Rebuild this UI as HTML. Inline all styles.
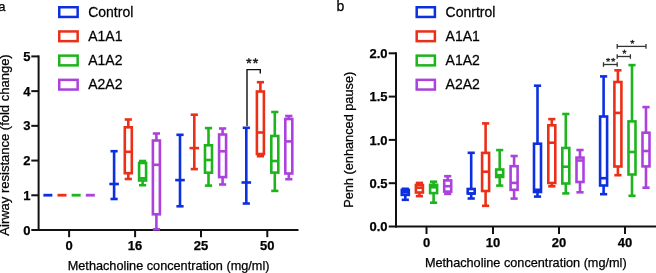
<!DOCTYPE html>
<html><head><meta charset="utf-8"><style>
html,body{margin:0;padding:0;background:#fff;}
body{width:656px;height:273px;overflow:hidden;}
svg{display:block;will-change:transform;font-family:"Liberation Sans",sans-serif;fill:#111;}
text{fill:#000;stroke:#000;stroke-width:0.25px;}
</style></head><body>
<svg width="656" height="273" viewBox="0 0 656 273">
<rect width="656" height="273" fill="#fff"/>
<line x1="38.60" y1="55.40" x2="38.60" y2="231.00" stroke="#111" stroke-width="2.0"/>
<line x1="37.60" y1="230.00" x2="298.50" y2="230.00" stroke="#111" stroke-width="2.0"/>
<line x1="31.30" y1="230.00" x2="38.60" y2="230.00" stroke="#111" stroke-width="2.0"/>
<text x="30.40" y="234.60" font-size="13" text-anchor="end" font-weight="bold" >0</text>
<line x1="31.30" y1="195.28" x2="38.60" y2="195.28" stroke="#111" stroke-width="2.0"/>
<text x="30.40" y="199.88" font-size="13" text-anchor="end" font-weight="bold" >1</text>
<line x1="31.30" y1="160.56" x2="38.60" y2="160.56" stroke="#111" stroke-width="2.0"/>
<text x="30.40" y="165.16" font-size="13" text-anchor="end" font-weight="bold" >2</text>
<line x1="31.30" y1="125.84" x2="38.60" y2="125.84" stroke="#111" stroke-width="2.0"/>
<text x="30.40" y="130.44" font-size="13" text-anchor="end" font-weight="bold" >3</text>
<line x1="31.30" y1="91.12" x2="38.60" y2="91.12" stroke="#111" stroke-width="2.0"/>
<text x="30.40" y="95.72" font-size="13" text-anchor="end" font-weight="bold" >4</text>
<line x1="31.30" y1="56.40" x2="38.60" y2="56.40" stroke="#111" stroke-width="2.0"/>
<text x="30.40" y="61.00" font-size="13" text-anchor="end" font-weight="bold" >5</text>
<line x1="69.10" y1="230.00" x2="69.10" y2="237.20" stroke="#111" stroke-width="2.0"/>
<text x="69.10" y="250.20" font-size="13" text-anchor="middle" font-weight="bold" >0</text>
<line x1="135.10" y1="230.00" x2="135.10" y2="237.20" stroke="#111" stroke-width="2.0"/>
<text x="135.10" y="250.20" font-size="13" text-anchor="middle" font-weight="bold" >16</text>
<line x1="201.00" y1="230.00" x2="201.00" y2="237.20" stroke="#111" stroke-width="2.0"/>
<text x="201.00" y="250.20" font-size="13" text-anchor="middle" font-weight="bold" >25</text>
<line x1="267.30" y1="230.00" x2="267.30" y2="237.20" stroke="#111" stroke-width="2.0"/>
<text x="267.30" y="250.20" font-size="13" text-anchor="middle" font-weight="bold" >50</text>
<text x="168.60" y="270.00" font-size="12.7" text-anchor="middle" font-weight="normal" >Methacholine concentration (mg/ml)</text>
<text x="0.00" y="0.00" font-size="13" text-anchor="middle" font-weight="normal" transform="translate(9.4,145.0) rotate(-90)">Airway resistance (fold change)</text>
<line x1="43.37" y1="195.20" x2="52.37" y2="195.20" stroke="#0c30e0" stroke-width="2.8"/>
<line x1="57.52" y1="195.20" x2="66.52" y2="195.20" stroke="#ea3018" stroke-width="2.8"/>
<line x1="71.67" y1="195.20" x2="80.67" y2="195.20" stroke="#1eb41e" stroke-width="2.8"/>
<line x1="85.82" y1="195.20" x2="94.82" y2="195.20" stroke="#ac42dc" stroke-width="2.8"/>
<line x1="114.10" y1="151.20" x2="114.10" y2="184.00" stroke="#0c30e0" stroke-width="2.6"/>
<line x1="114.10" y1="184.00" x2="114.10" y2="199.00" stroke="#0c30e0" stroke-width="2.6"/>
<line x1="110.50" y1="151.20" x2="117.70" y2="151.20" stroke="#0c30e0" stroke-width="2.6"/>
<line x1="110.50" y1="199.00" x2="117.70" y2="199.00" stroke="#0c30e0" stroke-width="2.6"/>
<line x1="109.30" y1="184.00" x2="118.90" y2="184.00" stroke="#0c30e0" stroke-width="2.6"/>
<line x1="128.30" y1="119.50" x2="128.30" y2="127.30" stroke="#ea3018" stroke-width="2.6"/>
<line x1="128.30" y1="173.20" x2="128.30" y2="179.00" stroke="#ea3018" stroke-width="2.6"/>
<line x1="124.70" y1="119.50" x2="131.90" y2="119.50" stroke="#ea3018" stroke-width="2.6"/>
<line x1="124.70" y1="179.00" x2="131.90" y2="179.00" stroke="#ea3018" stroke-width="2.6"/>
<rect x="124.80" y="127.30" width="7.00" height="45.90" fill="none" stroke="#ea3018" stroke-width="2.6"/>
<line x1="124.80" y1="151.80" x2="131.80" y2="151.80" stroke="#ea3018" stroke-width="2.6"/>
<line x1="142.60" y1="161.00" x2="142.60" y2="163.00" stroke="#1eb41e" stroke-width="2.6"/>
<line x1="142.60" y1="180.50" x2="142.60" y2="185.20" stroke="#1eb41e" stroke-width="2.6"/>
<line x1="139.00" y1="161.00" x2="146.20" y2="161.00" stroke="#1eb41e" stroke-width="2.6"/>
<line x1="139.00" y1="185.20" x2="146.20" y2="185.20" stroke="#1eb41e" stroke-width="2.6"/>
<rect x="139.10" y="163.00" width="7.00" height="17.50" fill="none" stroke="#1eb41e" stroke-width="2.6"/>
<line x1="139.10" y1="178.30" x2="146.10" y2="178.30" stroke="#1eb41e" stroke-width="2.6"/>
<line x1="156.40" y1="133.50" x2="156.40" y2="140.50" stroke="#ac42dc" stroke-width="2.6"/>
<line x1="156.40" y1="214.30" x2="156.40" y2="229.30" stroke="#ac42dc" stroke-width="2.6"/>
<line x1="152.80" y1="133.50" x2="160.00" y2="133.50" stroke="#ac42dc" stroke-width="2.6"/>
<line x1="152.80" y1="229.30" x2="160.00" y2="229.30" stroke="#ac42dc" stroke-width="2.6"/>
<rect x="152.90" y="140.50" width="7.00" height="73.80" fill="none" stroke="#ac42dc" stroke-width="2.6"/>
<line x1="152.90" y1="164.80" x2="159.90" y2="164.80" stroke="#ac42dc" stroke-width="2.6"/>
<line x1="180.00" y1="134.80" x2="180.00" y2="180.10" stroke="#0c30e0" stroke-width="2.6"/>
<line x1="180.00" y1="180.10" x2="180.00" y2="206.30" stroke="#0c30e0" stroke-width="2.6"/>
<line x1="176.40" y1="134.80" x2="183.60" y2="134.80" stroke="#0c30e0" stroke-width="2.6"/>
<line x1="176.40" y1="206.30" x2="183.60" y2="206.30" stroke="#0c30e0" stroke-width="2.6"/>
<line x1="175.20" y1="180.10" x2="184.80" y2="180.10" stroke="#0c30e0" stroke-width="2.6"/>
<line x1="194.30" y1="114.70" x2="194.30" y2="148.10" stroke="#ea3018" stroke-width="2.6"/>
<line x1="194.30" y1="148.10" x2="194.30" y2="169.10" stroke="#ea3018" stroke-width="2.6"/>
<line x1="190.70" y1="114.70" x2="197.90" y2="114.70" stroke="#ea3018" stroke-width="2.6"/>
<line x1="190.70" y1="169.10" x2="197.90" y2="169.10" stroke="#ea3018" stroke-width="2.6"/>
<line x1="189.50" y1="148.10" x2="199.10" y2="148.10" stroke="#ea3018" stroke-width="2.6"/>
<line x1="208.50" y1="128.10" x2="208.50" y2="145.30" stroke="#1eb41e" stroke-width="2.6"/>
<line x1="208.50" y1="172.70" x2="208.50" y2="185.60" stroke="#1eb41e" stroke-width="2.6"/>
<line x1="204.90" y1="128.10" x2="212.10" y2="128.10" stroke="#1eb41e" stroke-width="2.6"/>
<line x1="204.90" y1="185.60" x2="212.10" y2="185.60" stroke="#1eb41e" stroke-width="2.6"/>
<rect x="205.00" y="145.30" width="7.00" height="27.40" fill="none" stroke="#1eb41e" stroke-width="2.6"/>
<line x1="205.00" y1="160.00" x2="212.00" y2="160.00" stroke="#1eb41e" stroke-width="2.6"/>
<line x1="222.60" y1="128.50" x2="222.60" y2="134.50" stroke="#ac42dc" stroke-width="2.6"/>
<line x1="222.60" y1="177.10" x2="222.60" y2="184.50" stroke="#ac42dc" stroke-width="2.6"/>
<line x1="219.00" y1="128.50" x2="226.20" y2="128.50" stroke="#ac42dc" stroke-width="2.6"/>
<line x1="219.00" y1="184.50" x2="226.20" y2="184.50" stroke="#ac42dc" stroke-width="2.6"/>
<rect x="219.10" y="134.50" width="7.00" height="42.60" fill="none" stroke="#ac42dc" stroke-width="2.6"/>
<line x1="219.10" y1="151.30" x2="226.10" y2="151.30" stroke="#ac42dc" stroke-width="2.6"/>
<line x1="246.30" y1="127.80" x2="246.30" y2="182.50" stroke="#0c30e0" stroke-width="2.6"/>
<line x1="246.30" y1="182.50" x2="246.30" y2="203.50" stroke="#0c30e0" stroke-width="2.6"/>
<line x1="242.70" y1="127.80" x2="249.90" y2="127.80" stroke="#0c30e0" stroke-width="2.6"/>
<line x1="242.70" y1="203.50" x2="249.90" y2="203.50" stroke="#0c30e0" stroke-width="2.6"/>
<line x1="241.50" y1="182.50" x2="251.10" y2="182.50" stroke="#0c30e0" stroke-width="2.6"/>
<line x1="260.40" y1="82.20" x2="260.40" y2="91.50" stroke="#ea3018" stroke-width="2.6"/>
<line x1="260.40" y1="154.00" x2="260.40" y2="156.20" stroke="#ea3018" stroke-width="2.6"/>
<line x1="256.80" y1="82.20" x2="264.00" y2="82.20" stroke="#ea3018" stroke-width="2.6"/>
<line x1="256.80" y1="156.20" x2="264.00" y2="156.20" stroke="#ea3018" stroke-width="2.6"/>
<rect x="256.90" y="91.50" width="7.00" height="62.50" fill="none" stroke="#ea3018" stroke-width="2.6"/>
<line x1="256.90" y1="132.50" x2="263.90" y2="132.50" stroke="#ea3018" stroke-width="2.6"/>
<line x1="274.80" y1="112.00" x2="274.80" y2="136.00" stroke="#1eb41e" stroke-width="2.6"/>
<line x1="274.80" y1="172.60" x2="274.80" y2="190.90" stroke="#1eb41e" stroke-width="2.6"/>
<line x1="271.20" y1="112.00" x2="278.40" y2="112.00" stroke="#1eb41e" stroke-width="2.6"/>
<line x1="271.20" y1="190.90" x2="278.40" y2="190.90" stroke="#1eb41e" stroke-width="2.6"/>
<rect x="271.30" y="136.00" width="7.00" height="36.60" fill="none" stroke="#1eb41e" stroke-width="2.6"/>
<line x1="271.30" y1="161.00" x2="278.30" y2="161.00" stroke="#1eb41e" stroke-width="2.6"/>
<line x1="288.80" y1="116.00" x2="288.80" y2="119.00" stroke="#ac42dc" stroke-width="2.6"/>
<line x1="288.80" y1="173.50" x2="288.80" y2="179.20" stroke="#ac42dc" stroke-width="2.6"/>
<line x1="285.20" y1="116.00" x2="292.40" y2="116.00" stroke="#ac42dc" stroke-width="2.6"/>
<line x1="285.20" y1="179.20" x2="292.40" y2="179.20" stroke="#ac42dc" stroke-width="2.6"/>
<rect x="285.30" y="119.00" width="7.00" height="54.50" fill="none" stroke="#ac42dc" stroke-width="2.6"/>
<line x1="285.30" y1="141.40" x2="292.30" y2="141.40" stroke="#ac42dc" stroke-width="2.6"/>
<polyline points="247,126 247,69.6 260.3,69.6 260.3,73.6" fill="none" stroke="#111" stroke-width="1.4"/>
<path d="M248.90 60.90L248.90 58.70M248.90 60.90L250.99 60.22M248.90 60.90L250.19 62.68M248.90 60.90L247.61 62.68M248.90 60.90L246.81 60.22" stroke="#222" stroke-width="1.45" stroke-linecap="round" fill="none"/>
<path d="M255.50 60.90L255.50 58.70M255.50 60.90L257.59 60.22M255.50 60.90L256.79 62.68M255.50 60.90L254.21 62.68M255.50 60.90L253.41 60.22" stroke="#222" stroke-width="1.45" stroke-linecap="round" fill="none"/>
<rect x="59.25" y="7.25" width="18.4" height="9.7" fill="none" stroke="#0c30e0" stroke-width="2.5"/>
<text x="0.00" y="0.00" font-size="14" text-anchor="start" font-weight="normal" transform="translate(88.2,16.80) scale(1,1.06)">Control</text>
<rect x="59.25" y="31.45" width="18.4" height="9.7" fill="none" stroke="#ea3018" stroke-width="2.5"/>
<text x="0.00" y="0.00" font-size="14" text-anchor="start" font-weight="normal" transform="translate(88.2,41.00) scale(1,1.06)">A1A1</text>
<rect x="59.25" y="55.65" width="18.4" height="9.7" fill="none" stroke="#1eb41e" stroke-width="2.5"/>
<text x="0.00" y="0.00" font-size="14" text-anchor="start" font-weight="normal" transform="translate(88.2,65.20) scale(1,1.06)">A1A2</text>
<rect x="59.25" y="79.85" width="18.4" height="9.7" fill="none" stroke="#ac42dc" stroke-width="2.5"/>
<text x="0.00" y="0.00" font-size="14" text-anchor="start" font-weight="normal" transform="translate(88.2,89.40) scale(1,1.06)">A2A2</text>
<rect x="416.7" y="7.25" width="18.2" height="9.7" fill="none" stroke="#0c30e0" stroke-width="2.5"/>
<text x="0.00" y="0.00" font-size="14" text-anchor="start" font-weight="normal" transform="translate(445.6,16.80) scale(1,1.06)">Conrtrol</text>
<rect x="416.7" y="31.45" width="18.2" height="9.7" fill="none" stroke="#ea3018" stroke-width="2.5"/>
<text x="0.00" y="0.00" font-size="14" text-anchor="start" font-weight="normal" transform="translate(445.6,41.00) scale(1,1.06)">A1A1</text>
<rect x="416.7" y="55.65" width="18.2" height="9.7" fill="none" stroke="#1eb41e" stroke-width="2.5"/>
<text x="0.00" y="0.00" font-size="14" text-anchor="start" font-weight="normal" transform="translate(445.6,65.20) scale(1,1.06)">A1A2</text>
<rect x="416.7" y="79.85" width="18.2" height="9.7" fill="none" stroke="#ac42dc" stroke-width="2.5"/>
<text x="0.00" y="0.00" font-size="14" text-anchor="start" font-weight="normal" transform="translate(445.6,89.40) scale(1,1.06)">A2A2</text>
<text x="-1.80" y="11.20" font-size="13" text-anchor="start" font-weight="normal" >a</text>
<text x="336.60" y="11.20" font-size="14" text-anchor="start" font-weight="normal" >b</text>
<line x1="396.00" y1="52.30" x2="396.00" y2="227.50" stroke="#111" stroke-width="2.0"/>
<line x1="395.00" y1="226.50" x2="656.00" y2="226.50" stroke="#111" stroke-width="2.0"/>
<line x1="388.70" y1="226.50" x2="396.00" y2="226.50" stroke="#111" stroke-width="2.0"/>
<text x="387.60" y="231.10" font-size="13" text-anchor="end" font-weight="bold" >0.0</text>
<line x1="388.70" y1="183.20" x2="396.00" y2="183.20" stroke="#111" stroke-width="2.0"/>
<text x="387.60" y="187.80" font-size="13" text-anchor="end" font-weight="bold" >0.5</text>
<line x1="388.70" y1="139.90" x2="396.00" y2="139.90" stroke="#111" stroke-width="2.0"/>
<text x="387.60" y="144.50" font-size="13" text-anchor="end" font-weight="bold" >1.0</text>
<line x1="388.70" y1="96.60" x2="396.00" y2="96.60" stroke="#111" stroke-width="2.0"/>
<text x="387.60" y="101.20" font-size="13" text-anchor="end" font-weight="bold" >1.5</text>
<line x1="388.70" y1="53.30" x2="396.00" y2="53.30" stroke="#111" stroke-width="2.0"/>
<text x="387.60" y="57.90" font-size="13" text-anchor="end" font-weight="bold" >2.0</text>
<line x1="426.50" y1="226.50" x2="426.50" y2="234.00" stroke="#111" stroke-width="2.0"/>
<text x="426.50" y="247.00" font-size="13" text-anchor="middle" font-weight="bold" >0</text>
<line x1="493.00" y1="226.50" x2="493.00" y2="234.00" stroke="#111" stroke-width="2.0"/>
<text x="493.00" y="247.00" font-size="13" text-anchor="middle" font-weight="bold" >10</text>
<line x1="559.00" y1="226.50" x2="559.00" y2="234.00" stroke="#111" stroke-width="2.0"/>
<text x="559.00" y="247.00" font-size="13" text-anchor="middle" font-weight="bold" >20</text>
<line x1="625.00" y1="226.50" x2="625.00" y2="234.00" stroke="#111" stroke-width="2.0"/>
<text x="625.00" y="247.00" font-size="13" text-anchor="middle" font-weight="bold" >40</text>
<text x="525.80" y="267.00" font-size="12.7" text-anchor="middle" font-weight="normal" >Methacholine concentration (mg/ml)</text>
<text x="0.00" y="0.00" font-size="12.75" text-anchor="middle" font-weight="normal" transform="translate(352.8,139.8) rotate(-90)">Penh (enhanced pause)</text>
<line x1="405.30" y1="188.80" x2="405.30" y2="189.90" stroke="#0c30e0" stroke-width="2.6"/>
<line x1="405.30" y1="194.90" x2="405.30" y2="199.80" stroke="#0c30e0" stroke-width="2.6"/>
<line x1="401.70" y1="188.80" x2="408.90" y2="188.80" stroke="#0c30e0" stroke-width="2.6"/>
<line x1="401.70" y1="199.80" x2="408.90" y2="199.80" stroke="#0c30e0" stroke-width="2.6"/>
<rect x="401.80" y="189.90" width="7.00" height="5.00" fill="none" stroke="#0c30e0" stroke-width="2.6"/>
<line x1="401.80" y1="192.30" x2="408.80" y2="192.30" stroke="#0c30e0" stroke-width="2.6"/>
<line x1="419.40" y1="182.90" x2="419.40" y2="185.00" stroke="#ea3018" stroke-width="2.6"/>
<line x1="419.40" y1="192.50" x2="419.40" y2="196.10" stroke="#ea3018" stroke-width="2.6"/>
<line x1="415.80" y1="182.90" x2="423.00" y2="182.90" stroke="#ea3018" stroke-width="2.6"/>
<line x1="415.80" y1="196.10" x2="423.00" y2="196.10" stroke="#ea3018" stroke-width="2.6"/>
<rect x="415.90" y="185.00" width="7.00" height="7.50" fill="none" stroke="#ea3018" stroke-width="2.6"/>
<line x1="415.90" y1="187.70" x2="422.90" y2="187.70" stroke="#ea3018" stroke-width="2.6"/>
<line x1="433.60" y1="181.70" x2="433.60" y2="184.80" stroke="#1eb41e" stroke-width="2.6"/>
<line x1="433.60" y1="193.10" x2="433.60" y2="202.70" stroke="#1eb41e" stroke-width="2.6"/>
<line x1="430.00" y1="181.70" x2="437.20" y2="181.70" stroke="#1eb41e" stroke-width="2.6"/>
<line x1="430.00" y1="202.70" x2="437.20" y2="202.70" stroke="#1eb41e" stroke-width="2.6"/>
<rect x="430.10" y="184.80" width="7.00" height="8.30" fill="none" stroke="#1eb41e" stroke-width="2.6"/>
<line x1="430.10" y1="187.30" x2="437.10" y2="187.30" stroke="#1eb41e" stroke-width="2.6"/>
<line x1="447.70" y1="176.20" x2="447.70" y2="180.40" stroke="#ac42dc" stroke-width="2.6"/>
<line x1="447.70" y1="191.60" x2="447.70" y2="193.90" stroke="#ac42dc" stroke-width="2.6"/>
<line x1="444.10" y1="176.20" x2="451.30" y2="176.20" stroke="#ac42dc" stroke-width="2.6"/>
<line x1="444.10" y1="193.90" x2="451.30" y2="193.90" stroke="#ac42dc" stroke-width="2.6"/>
<rect x="444.20" y="180.40" width="7.00" height="11.20" fill="none" stroke="#ac42dc" stroke-width="2.6"/>
<line x1="444.20" y1="186.20" x2="451.20" y2="186.20" stroke="#ac42dc" stroke-width="2.6"/>
<line x1="471.20" y1="152.80" x2="471.20" y2="189.00" stroke="#0c30e0" stroke-width="2.6"/>
<line x1="471.20" y1="193.50" x2="471.20" y2="198.50" stroke="#0c30e0" stroke-width="2.6"/>
<line x1="467.60" y1="152.80" x2="474.80" y2="152.80" stroke="#0c30e0" stroke-width="2.6"/>
<line x1="467.60" y1="198.50" x2="474.80" y2="198.50" stroke="#0c30e0" stroke-width="2.6"/>
<rect x="467.70" y="189.00" width="7.00" height="4.50" fill="none" stroke="#0c30e0" stroke-width="2.6"/>
<line x1="467.70" y1="193.50" x2="474.70" y2="193.50" stroke="#0c30e0" stroke-width="2.6"/>
<line x1="485.60" y1="123.40" x2="485.60" y2="152.90" stroke="#ea3018" stroke-width="2.6"/>
<line x1="485.60" y1="191.00" x2="485.60" y2="205.80" stroke="#ea3018" stroke-width="2.6"/>
<line x1="482.00" y1="123.40" x2="489.20" y2="123.40" stroke="#ea3018" stroke-width="2.6"/>
<line x1="482.00" y1="205.80" x2="489.20" y2="205.80" stroke="#ea3018" stroke-width="2.6"/>
<rect x="482.10" y="152.90" width="7.00" height="38.10" fill="none" stroke="#ea3018" stroke-width="2.6"/>
<line x1="482.10" y1="171.70" x2="489.10" y2="171.70" stroke="#ea3018" stroke-width="2.6"/>
<line x1="499.70" y1="150.10" x2="499.70" y2="169.50" stroke="#1eb41e" stroke-width="2.6"/>
<line x1="499.70" y1="177.00" x2="499.70" y2="185.60" stroke="#1eb41e" stroke-width="2.6"/>
<line x1="496.10" y1="150.10" x2="503.30" y2="150.10" stroke="#1eb41e" stroke-width="2.6"/>
<line x1="496.10" y1="185.60" x2="503.30" y2="185.60" stroke="#1eb41e" stroke-width="2.6"/>
<rect x="496.20" y="169.50" width="7.00" height="7.50" fill="none" stroke="#1eb41e" stroke-width="2.6"/>
<line x1="496.20" y1="175.20" x2="503.20" y2="175.20" stroke="#1eb41e" stroke-width="2.6"/>
<line x1="514.10" y1="156.00" x2="514.10" y2="166.20" stroke="#ac42dc" stroke-width="2.6"/>
<line x1="514.10" y1="189.80" x2="514.10" y2="198.60" stroke="#ac42dc" stroke-width="2.6"/>
<line x1="510.50" y1="156.00" x2="517.70" y2="156.00" stroke="#ac42dc" stroke-width="2.6"/>
<line x1="510.50" y1="198.60" x2="517.70" y2="198.60" stroke="#ac42dc" stroke-width="2.6"/>
<rect x="510.60" y="166.20" width="7.00" height="23.60" fill="none" stroke="#ac42dc" stroke-width="2.6"/>
<line x1="510.60" y1="182.90" x2="517.60" y2="182.90" stroke="#ac42dc" stroke-width="2.6"/>
<line x1="537.50" y1="85.70" x2="537.50" y2="143.70" stroke="#0c30e0" stroke-width="2.6"/>
<line x1="537.50" y1="192.00" x2="537.50" y2="196.60" stroke="#0c30e0" stroke-width="2.6"/>
<line x1="533.90" y1="85.70" x2="541.10" y2="85.70" stroke="#0c30e0" stroke-width="2.6"/>
<line x1="533.90" y1="196.60" x2="541.10" y2="196.60" stroke="#0c30e0" stroke-width="2.6"/>
<rect x="534.00" y="143.70" width="7.00" height="48.30" fill="none" stroke="#0c30e0" stroke-width="2.6"/>
<line x1="534.00" y1="189.80" x2="541.00" y2="189.80" stroke="#0c30e0" stroke-width="2.6"/>
<line x1="551.80" y1="119.10" x2="551.80" y2="125.30" stroke="#ea3018" stroke-width="2.6"/>
<line x1="551.80" y1="183.00" x2="551.80" y2="186.30" stroke="#ea3018" stroke-width="2.6"/>
<line x1="548.20" y1="119.10" x2="555.40" y2="119.10" stroke="#ea3018" stroke-width="2.6"/>
<line x1="548.20" y1="186.30" x2="555.40" y2="186.30" stroke="#ea3018" stroke-width="2.6"/>
<rect x="548.30" y="125.30" width="7.00" height="57.70" fill="none" stroke="#ea3018" stroke-width="2.6"/>
<line x1="548.30" y1="142.70" x2="555.30" y2="142.70" stroke="#ea3018" stroke-width="2.6"/>
<line x1="565.80" y1="114.00" x2="565.80" y2="148.00" stroke="#1eb41e" stroke-width="2.6"/>
<line x1="565.80" y1="183.50" x2="565.80" y2="193.40" stroke="#1eb41e" stroke-width="2.6"/>
<line x1="562.20" y1="114.00" x2="569.40" y2="114.00" stroke="#1eb41e" stroke-width="2.6"/>
<line x1="562.20" y1="193.40" x2="569.40" y2="193.40" stroke="#1eb41e" stroke-width="2.6"/>
<rect x="562.30" y="148.00" width="7.00" height="35.50" fill="none" stroke="#1eb41e" stroke-width="2.6"/>
<line x1="562.30" y1="166.70" x2="569.30" y2="166.70" stroke="#1eb41e" stroke-width="2.6"/>
<line x1="580.00" y1="150.00" x2="580.00" y2="157.60" stroke="#ac42dc" stroke-width="2.6"/>
<line x1="580.00" y1="182.00" x2="580.00" y2="192.30" stroke="#ac42dc" stroke-width="2.6"/>
<line x1="576.40" y1="150.00" x2="583.60" y2="150.00" stroke="#ac42dc" stroke-width="2.6"/>
<line x1="576.40" y1="192.30" x2="583.60" y2="192.30" stroke="#ac42dc" stroke-width="2.6"/>
<rect x="576.50" y="157.60" width="7.00" height="24.40" fill="none" stroke="#ac42dc" stroke-width="2.6"/>
<line x1="576.50" y1="160.50" x2="583.50" y2="160.50" stroke="#ac42dc" stroke-width="2.6"/>
<line x1="603.60" y1="76.40" x2="603.60" y2="116.50" stroke="#0c30e0" stroke-width="2.6"/>
<line x1="603.60" y1="185.50" x2="603.60" y2="194.20" stroke="#0c30e0" stroke-width="2.6"/>
<line x1="600.00" y1="76.40" x2="607.20" y2="76.40" stroke="#0c30e0" stroke-width="2.6"/>
<line x1="600.00" y1="194.20" x2="607.20" y2="194.20" stroke="#0c30e0" stroke-width="2.6"/>
<rect x="600.10" y="116.50" width="7.00" height="69.00" fill="none" stroke="#0c30e0" stroke-width="2.6"/>
<line x1="600.10" y1="178.20" x2="607.10" y2="178.20" stroke="#0c30e0" stroke-width="2.6"/>
<line x1="617.90" y1="70.30" x2="617.90" y2="82.00" stroke="#ea3018" stroke-width="2.6"/>
<line x1="617.90" y1="166.50" x2="617.90" y2="175.20" stroke="#ea3018" stroke-width="2.6"/>
<line x1="614.30" y1="70.30" x2="621.50" y2="70.30" stroke="#ea3018" stroke-width="2.6"/>
<line x1="614.30" y1="175.20" x2="621.50" y2="175.20" stroke="#ea3018" stroke-width="2.6"/>
<rect x="614.40" y="82.00" width="7.00" height="84.50" fill="none" stroke="#ea3018" stroke-width="2.6"/>
<line x1="614.40" y1="112.90" x2="621.40" y2="112.90" stroke="#ea3018" stroke-width="2.6"/>
<line x1="632.00" y1="65.10" x2="632.00" y2="121.40" stroke="#1eb41e" stroke-width="2.6"/>
<line x1="632.00" y1="174.50" x2="632.00" y2="195.80" stroke="#1eb41e" stroke-width="2.6"/>
<line x1="628.40" y1="65.10" x2="635.60" y2="65.10" stroke="#1eb41e" stroke-width="2.6"/>
<line x1="628.40" y1="195.80" x2="635.60" y2="195.80" stroke="#1eb41e" stroke-width="2.6"/>
<rect x="628.50" y="121.40" width="7.00" height="53.10" fill="none" stroke="#1eb41e" stroke-width="2.6"/>
<line x1="628.50" y1="152.00" x2="635.50" y2="152.00" stroke="#1eb41e" stroke-width="2.6"/>
<line x1="646.00" y1="107.10" x2="646.00" y2="132.70" stroke="#ac42dc" stroke-width="2.6"/>
<line x1="646.00" y1="166.40" x2="646.00" y2="187.70" stroke="#ac42dc" stroke-width="2.6"/>
<line x1="642.40" y1="107.10" x2="649.60" y2="107.10" stroke="#ac42dc" stroke-width="2.6"/>
<line x1="642.40" y1="187.70" x2="649.60" y2="187.70" stroke="#ac42dc" stroke-width="2.6"/>
<rect x="642.50" y="132.70" width="7.00" height="33.70" fill="none" stroke="#ac42dc" stroke-width="2.6"/>
<line x1="642.50" y1="151.00" x2="649.50" y2="151.00" stroke="#ac42dc" stroke-width="2.6"/>
<line x1="603.50" y1="64.50" x2="617.20" y2="64.50" stroke="#333" stroke-width="1.3"/>
<line x1="603.50" y1="62.20" x2="603.50" y2="66.80" stroke="#333" stroke-width="1.3"/>
<line x1="617.20" y1="62.20" x2="617.20" y2="66.80" stroke="#333" stroke-width="1.3"/>
<path d="M608.10 59.90L608.10 58.20M608.10 59.90L609.72 59.37M608.10 59.90L609.10 61.28M608.10 59.90L607.10 61.28M608.10 59.90L606.48 59.37" stroke="#222" stroke-width="1.1" stroke-linecap="round" fill="none"/>
<path d="M613.20 59.90L613.20 58.20M613.20 59.90L614.82 59.37M613.20 59.90L614.20 61.28M613.20 59.90L612.20 61.28M613.20 59.90L611.58 59.37" stroke="#222" stroke-width="1.1" stroke-linecap="round" fill="none"/>
<line x1="617.20" y1="56.50" x2="630.40" y2="56.50" stroke="#333" stroke-width="1.3"/>
<line x1="617.20" y1="54.20" x2="617.20" y2="58.80" stroke="#333" stroke-width="1.3"/>
<line x1="630.40" y1="54.20" x2="630.40" y2="58.80" stroke="#333" stroke-width="1.3"/>
<path d="M624.40 51.80L624.40 50.10M624.40 51.80L626.02 51.27M624.40 51.80L625.40 53.18M624.40 51.80L623.40 53.18M624.40 51.80L622.78 51.27" stroke="#222" stroke-width="1.1" stroke-linecap="round" fill="none"/>
<line x1="617.20" y1="46.40" x2="646.00" y2="46.40" stroke="#333" stroke-width="1.3"/>
<line x1="617.20" y1="44.10" x2="617.20" y2="48.70" stroke="#333" stroke-width="1.3"/>
<line x1="646.00" y1="44.10" x2="646.00" y2="48.70" stroke="#333" stroke-width="1.3"/>
<path d="M632.40 41.90L632.40 40.20M632.40 41.90L634.02 41.37M632.40 41.90L633.40 43.28M632.40 41.90L631.40 43.28M632.40 41.90L630.78 41.37" stroke="#222" stroke-width="1.1" stroke-linecap="round" fill="none"/>
</svg>
</body></html>
